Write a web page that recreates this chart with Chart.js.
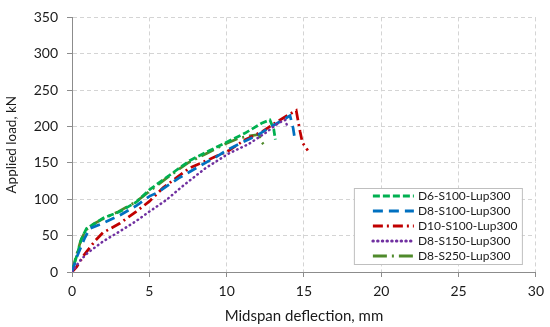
<!DOCTYPE html>
<html>
<head>
<meta charset="utf-8">
<script src="https://cdn.jsdelivr.net/npm/chart.js@4/dist/chart.umd.min.js"></script>
<style>
  html, body { margin: 0; padding: 0; background: #fff; }
  #wrap { width: 550px; height: 327px; }
</style>
</head>
<body>
<div id="wrap"><canvas id="loadChart" width="550" height="327"></canvas></div>
<script>
// series names
const seriesNames = ['D6-S100-Lup300', 'D8-S100-Lup300', 'D10-S100-Lup300', 'D8-S150-Lup300', 'D8-S250-Lup300'];

// midspan deflection (mm) / applied load (kN)
const d6s100X = [0, 0.3, 0.6, 0.94, 1.5, 2.0, 3.1, 4.15, 5.0, 6.3, 7.6, 8.9, 10.15, 11.2, 12.3, 12.8, 13.05, 13.15];
const d6s100Y = [0, 22, 45, 60, 67, 74, 83, 96, 113, 133, 153, 167, 180, 191, 205, 209, 196, 182];

const d8s100X = [0, 0.3, 0.83, 1.16, 2.0, 3.1, 4.15, 5.0, 5.5, 6.9, 8.2, 9.3, 10.15, 10.8, 11.9, 12.9, 13.8, 14.1, 14.3, 14.43];
const d8s100Y = [0, 20, 47, 60, 67, 78, 91, 104, 109, 129, 145, 158, 169, 176, 187, 200, 211, 215, 198, 180];

const d10s100X = [0, 0.3, 0.8, 1.5, 2.0, 3.1, 4.15, 5.0, 5.9, 7.6, 8.9, 10.15, 11.2, 12.3, 13.15, 14.0, 14.5, 14.75, 14.9, 15.25];
const d10s100Y = [0, 7, 24, 43, 54, 67, 83, 97, 116, 143, 155, 167, 182, 193, 205, 216, 222, 193, 178, 167];

const d8s150X = [0, 0.5, 1.0, 2.0, 3.1, 4.15, 5.0, 6.1, 7.15, 8.65, 10.15, 11.43, 12.5, 13.36, 13.8, 13.95];
const d8s150Y = [0, 15, 26, 42, 56, 70, 83, 99, 118, 143, 163, 176, 191, 205, 209, 198];

const d8s250X = [0, 0.25, 0.55, 0.9, 1.4, 2.0, 3.0, 4.1, 5.2, 6.3, 7.5, 8.7, 9.8, 10.8, 11.5, 12.1, 12.2, 12.55];
const d8s250Y = [0, 20, 42, 58, 66, 73, 83, 96, 114, 132, 150, 163, 175, 184, 187, 189, 180, 172];

// axis ticks
const xTicks = [0, 5, 10, 15, 20, 25, 30];
const yTicks = [0, 50, 100, 150, 200, 250, 300, 350];

const FONT = "Lato, 'Open Sans', sans-serif";
const TEXT = '#1a1a1a';

const toPoints = (xs, ys) => xs.map((x, i) => ({ x: x, y: ys[i] }));

const makeSet = (label, xs, ys, color, dash, cap, width) => ({
  label: label,
  data: toPoints(xs, ys),
  showLine: true,
  borderColor: color,
  backgroundColor: color,
  borderWidth: width || 2.75,
  borderDash: dash,
  borderCapStyle: cap || 'butt',
  pointRadius: 0,
  tension: 0,
});

// draw order: the olive line sits on top like in the original
const datasets = [
  makeSet(seriesNames[3], d8s150X, d8s150Y, '#7030a0', [0.5, 4.2], 'round', 2.5),
  makeSet(seriesNames[1], d8s100X, d8s100Y, '#0070c0', [10, 6]),
  makeSet(seriesNames[2], d10s100X, d10s100Y, '#c00000', [10, 4, 2, 4]),
  makeSet(seriesNames[0], d6s100X, d6s100Y, '#00b050', [7, 3]),
  makeSet(seriesNames[4], d8s250X, d8s250Y, '#4f8a2b', [14, 5, 2, 5]),
];

// legend drawn inside the plot, bottom right
const boxLegend = {
  id: 'boxLegend',
  afterDraw(chart) {
    const { ctx, chartArea } = chart;
    const w = 168, h = 76;
    const left = chartArea.right - 14 - w;
    const top = chartArea.bottom - 8 - h;
    ctx.save();
    ctx.fillStyle = '#fff';
    ctx.fillRect(left, top, w, h);
    ctx.strokeStyle = '#bfbfbf';
    ctx.lineWidth = 1;
    ctx.strokeRect(left + 0.5, top + 0.5, w, h);
    ctx.font = '12px ' + FONT;
    ctx.textBaseline = 'middle';
    seriesNames.forEach((name, i) => {
      const ds = chart.data.datasets.find(d => d.label === name);
      const y = top + 8 + i * 15;
      ctx.beginPath();
      ctx.setLineDash(ds.borderDash);
      ctx.lineCap = ds.borderCapStyle;
      ctx.strokeStyle = ds.borderColor;
      ctx.lineWidth = 3;
      ctx.moveTo(left + 19, y);
      ctx.lineTo(left + 60, y);
      ctx.stroke();
      ctx.setLineDash([]);
      ctx.fillStyle = TEXT;
      ctx.fillText(name, left + 64, y + 0.5);
    });
    ctx.restore();
  }
};

const axisCommon = {
  type: 'linear',
  border: { display: true, color: '#8c8c8c', width: 1, dash: [4, 3] },
  grid: { color: '#d4d4d4', lineWidth: 1, tickLength: 5, tickColor: '#8c8c8c', tickBorderDash: [] },
};

new Chart(document.getElementById('loadChart'), {
  type: 'scatter',
  data: { datasets: datasets },
  options: {
    responsive: false,
    animation: false,
    layout: { padding: { top: 9, right: 11, left: 0, bottom: 0 } },
    plugins: { legend: { display: false }, tooltip: { enabled: false } },
    scales: {
      x: {
        ...axisCommon,
        min: 0,
        max: 30,
        afterBuildTicks: (s) => { s.ticks = xTicks.map(v => ({ value: v })); },
        afterFit: (s) => { s.height = 55; },
        ticks: { color: TEXT, font: { family: FONT, size: 14 }, padding: 6, maxRotation: 0 },
        title: { display: true, text: 'Midspan deflection, mm', color: TEXT, font: { family: FONT, size: 15 }, padding: { top: 0, bottom: 2 } },
      },
      y: {
        ...axisCommon,
        min: 0,
        max: 350,
        afterBuildTicks: (s) => { s.ticks = yTicks.map(v => ({ value: v })); },
        afterFit: (s) => { s.width = 72; },
        ticks: { color: TEXT, font: { family: FONT, size: 14 }, padding: 9 },
        title: { display: true, text: 'Applied load, kN', color: TEXT, font: { family: FONT, size: 13.5 }, padding: { top: 4, bottom: 0 } },
      },
    },
  },
  plugins: [boxLegend],
});
</script>
</body>
</html>
